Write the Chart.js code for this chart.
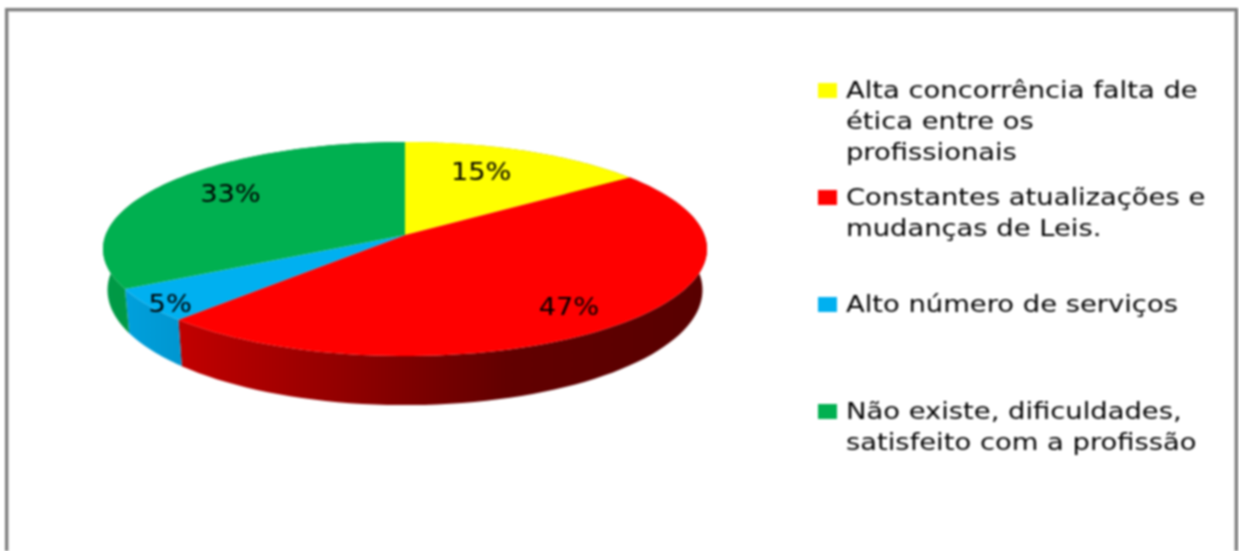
<!DOCTYPE html>
<html>
<head>
<meta charset="utf-8">
<title>Dificuldades</title>
<script src="https://cdn.jsdelivr.net/npm/chart.js@4"></script>
<style>
  html, body { margin: 0; padding: 0; background: #fff; }
  #wrap { position: relative; width: 1239px; height: 551px; overflow: hidden; filter: blur(0.8px); }
  #frame {
    position: absolute; left: 5px; top: 8px; width: 1227px; height: 560px;
    border: 3px solid #7d7d7d; box-shadow: inset 0 0 0 1px #d0d0d0;
  }
  canvas { position: absolute; left: 0; top: 0; }
</style>
</head>
<body>
<div id="wrap">
  <div id="frame"></div>
  <canvas id="grafico" width="1239" height="551"></canvas>
</div>
<script>
const categorias = [
  ['Alta concorrência falta de', 'ética entre os', 'profissionais'],
  ['Constantes atualizações e', 'mudanças de Leis.'],
  ['Alto número de serviços'],
  ['Não existe, dificuldades,', 'satisfeito com a profissão']
];
const valores = [15, 47, 5, 33];
const cores = ['#ffff00', '#ff0000', '#00b0f0', '#00b050'];

// stops for the side wall of each slice
const coresLaterais = [
  [[0, '#c0c000'], [1, '#808000']],
  [[0, '#c20000'], [0.62, '#620000'], [1, '#580000']],
  [[0, '#00a0dc'], [1, '#0096d0']],
  [[0, '#009a46'], [1, '#008f40']]
];

// perspective of the pie disc
const pie = { cx: 405, cy: 235, a: 299.4, b: 105.2, k: 0.131 };
const base = { dy: 40, sx: 0.985, sy: 1.075 };

function project(theta, r, wall) {
  const s = Math.sin(theta) * r;
  const c = Math.cos(theta) * r;
  const d = 1 - pie.k * s;
  const x = pie.a * c / d;
  const y = pie.b * s / d;
  if (wall) return [pie.cx + x * base.sx, pie.cy + base.dy + y * base.sy];
  return [pie.cx + x, pie.cy + y];
}

// canvas has no font-stretch for these faces, so widen by hand
function wideText(ctx, text, x, y, stretch) {
  ctx.save();
  ctx.translate(x, y);
  ctx.scale(stretch, 1);
  ctx.fillText(text, 0, 0);
  ctx.restore();
}

class Arc3D extends Chart.ArcElement {
  static id = 'arc3d';

  drawWall(ctx, index) {
    const steps = 80;
    const pts = [];
    for (let i = 0; i <= steps; i++) {
      pts.push(project(this.startAngle + (this.endAngle - this.startAngle) * i / steps, 1, false));
    }
    for (let i = steps; i >= 0; i--) {
      pts.push(project(this.startAngle + (this.endAngle - this.startAngle) * i / steps, 1, true));
    }
    const xs = pts.map(p => p[0]);
    const grad = ctx.createLinearGradient(Math.min(...xs), 0, Math.max(...xs), 0);
    coresLaterais[index].forEach(st => grad.addColorStop(st[0], st[1]));
    ctx.fillStyle = grad;
    ctx.beginPath();
    pts.forEach((p, i) => i ? ctx.lineTo(p[0], p[1]) : ctx.moveTo(p[0], p[1]));
    ctx.closePath();
    ctx.fill();
  }

  draw(ctx) {
    const steps = 80;
    ctx.fillStyle = this.options.backgroundColor;
    ctx.beginPath();
    ctx.moveTo(pie.cx, pie.cy);
    for (let i = 0; i <= steps; i++) {
      const p = project(this.startAngle + (this.endAngle - this.startAngle) * i / steps, 1, false);
      ctx.lineTo(p[0], p[1]);
    }
    ctx.closePath();
    ctx.fill();
  }
}

class Pie3D extends Chart.PieController {
  static id = 'pie3d';
  static defaults = { ...Chart.PieController.defaults, dataElementType: 'arc3d' };

  draw() {
    const ctx = this.chart.ctx;
    this._cachedMeta.data.forEach((arc, i) => arc.drawWall(ctx, i));
    super.draw();
  }
}

Chart.register(Arc3D, Pie3D);

const rotulos = {
  id: 'rotulos',
  afterDraw(chart, args, opts) {
    const ctx = chart.ctx;
    const meta = chart.getDatasetMeta(0);
    ctx.save();

    // percentages on the slices
    ctx.font = opts.valueFont;
    ctx.fillStyle = opts.valueColor;
    ctx.textAlign = 'center';
    ctx.textBaseline = 'middle';
    meta.data.forEach((arc, i) => {
      const place = opts.valuePlaces[i];
      const p = project((arc.startAngle + arc.endAngle) / 2, place.r, false);
      wideText(ctx, chart.data.datasets[0].data[i] + '%', p[0] + place.dx, p[1] + place.dy, opts.valueStretch);
    });

    // legend, entries sit on an even step even when they wrap
    ctx.textAlign = 'left';
    ctx.textBaseline = 'alphabetic';
    ctx.font = opts.legendFont;
    chart.data.labels.forEach((lines, i) => {
      const top = opts.legendTop + i * opts.legendStep;
      ctx.fillStyle = cores[i];
      ctx.fillRect(opts.legendX, top, 19, 15);
      ctx.fillStyle = opts.legendColor;
      lines.forEach((line, j) => {
        wideText(ctx, line, opts.legendX + 28, top + 15 + j * opts.legendLine, opts.legendStretch);
      });
    });
    ctx.restore();
  }
};

new Chart(document.getElementById('grafico'), {
  type: 'pie3d',
  data: {
    labels: categorias,
    datasets: [{ data: valores, backgroundColor: cores, borderWidth: 0 }]
  },
  options: {
    responsive: false,
    animation: false,
    events: [],
    plugins: {
      legend: { display: false },
      tooltip: { enabled: false },
      rotulos: {
        valueFont: '25px "DejaVu Sans"',
        valueColor: '#000000',
        valueStretch: 1.09,
        valuePlaces: [
          { r: 0.6, dx: 0, dy: -9 },
          { r: 0.8, dx: -8, dy: 5 },
          { r: 0.93, dx: 3, dy: 6 },
          { r: 0.65, dx: -14, dy: -6 }
        ],
        legendFont: '23px "DejaVu Sans"',
        legendColor: '#000000',
        legendStretch: 1.19,
        legendX: 818,
        legendTop: 83,
        legendStep: 107,
        legendLine: 31
      }
    }
  },
  plugins: [rotulos]
});
</script>
</body>
</html>
